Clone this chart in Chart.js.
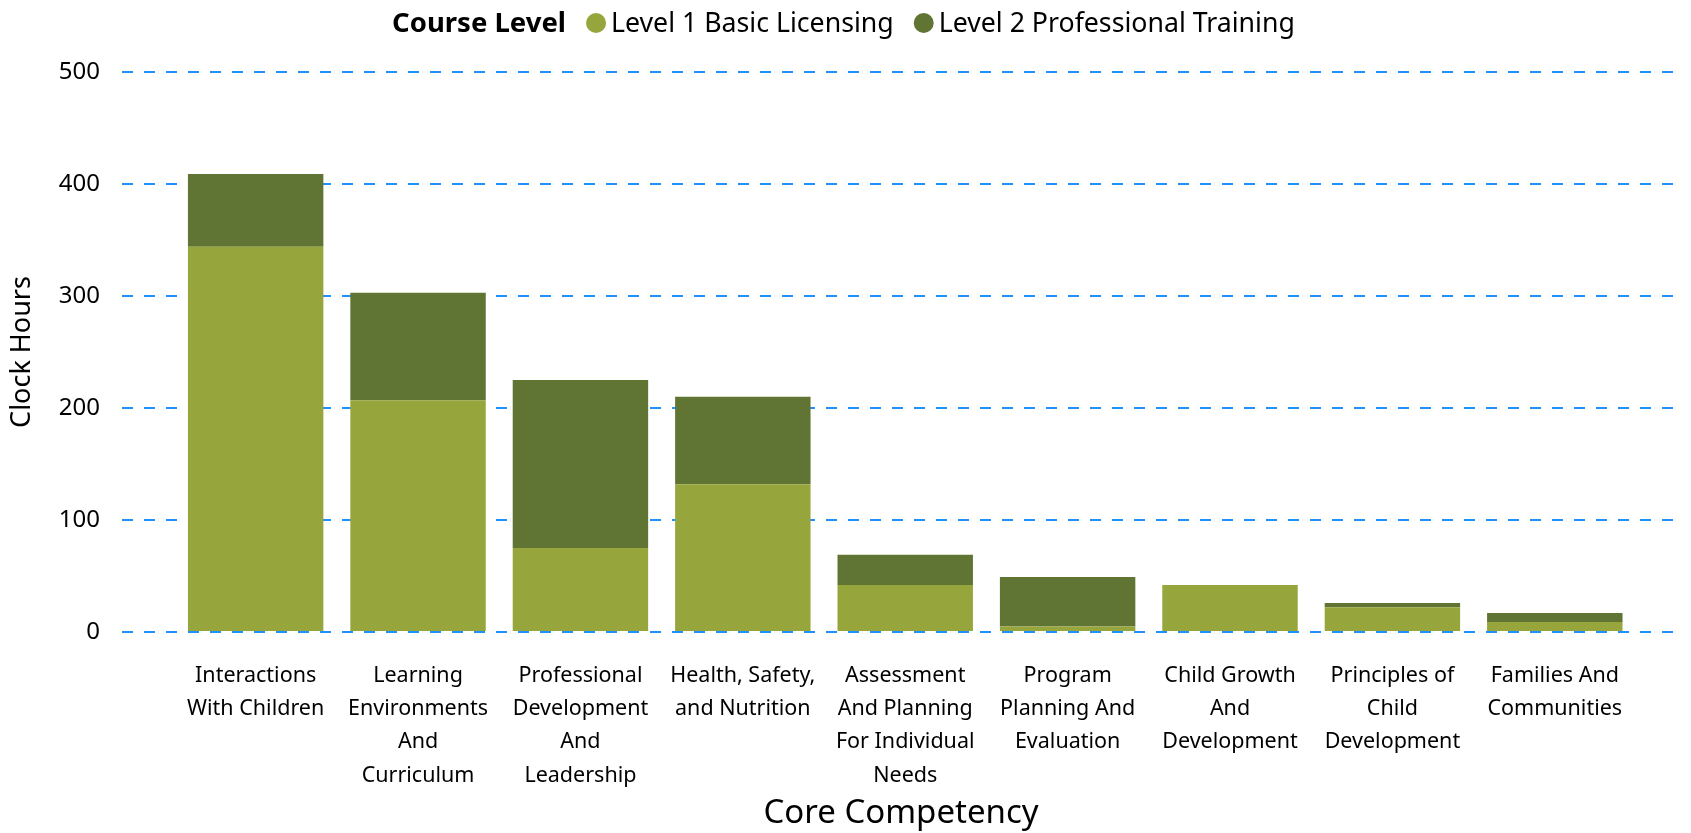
<!DOCTYPE html>
<html>
<head>
<meta charset="utf-8">
<title>Clock Hours by Core Competency</title>
<script src="https://cdn.jsdelivr.net/npm/chart.js@4.4.1/dist/chart.umd.min.js"></script>
<style>
  html, body { margin: 0; padding: 0; background: #fff; }
  #wrap { width: 1691px; height: 833px; }
</style>
</head>
<body>
<div id="wrap"><canvas id="hoursChart"></canvas></div>
<script>
/* global document, Chart */

// 카테고리 (x축 라벨, 줄바꿈 포함)
const competencies = [
  ['Interactions', 'With Children'],
  ['Learning', 'Environments', 'And', 'Curriculum'],
  ['Professional', 'Development', 'And', 'Leadership'],
  ['Health, Safety,', 'and Nutrition'],
  ['Assessment', 'And Planning', 'For Individual', 'Needs'],
  ['Program', 'Planning And', 'Evaluation'],
  ['Child Growth', 'And', 'Development'],
  ['Principles of', 'Child', 'Development'],
  ['Families And', 'Communities'],
];
const level1Hours = [344, 207, 75, 132, 42, 5, 42, 22, 9];
const level2Hours = [65, 96, 150, 78, 27, 44, 0, 4, 8];
const seriesNames = ['Level 1 Basic Licensing', 'Level 2 Professional Training'];
const legendTitle = 'Course Level';
const yTicks = [0, 100, 200, 300, 400, 500];

const FONT = "'Noto Sans', sans-serif";
const TEXT = '#000';

// 범례: 제목 + 원형 마커를 한 줄에 그림
const courseLegend = {
  id: 'courseLegend',
  afterDraw(chart) {
    const ctx = chart.ctx;
    const cy = 23;
    const dot = 20;
    ctx.save();
    ctx.textBaseline = 'middle';
    ctx.textAlign = 'left';

    ctx.font = 'bold 27.5px ' + FONT;
    const titleW = ctx.measureText(legendTitle).width;
    ctx.font = '26.7px ' + FONT;
    const items = chart.data.datasets.map((ds) => ({
      text: ds.label,
      color: ds.backgroundColor,
      w: ctx.measureText(ds.label).width,
    }));

    let total = titleW;
    items.forEach((it) => { total += 20 + dot + 5 + it.w; });
    let x = chart.width / 2 - 2 - total / 2;

    ctx.fillStyle = TEXT;
    ctx.font = 'bold 27.5px ' + FONT;
    ctx.fillText(legendTitle, x, cy + 1);
    x += titleW;

    ctx.font = '26.7px ' + FONT;
    items.forEach((it) => {
      x += 20;
      ctx.fillStyle = it.color;
      ctx.beginPath();
      ctx.arc(x + dot / 2, cy, dot / 2, 0, Math.PI * 2);
      ctx.fill();
      x += dot + 5;
      ctx.fillStyle = TEXT;
      ctx.fillText(it.text, x, cy + 1);
      x += it.w;
    });
    ctx.restore();
  },
};

const ctx = /** @type {HTMLCanvasElement} */ (
  document.getElementById('hoursChart')
).getContext('2d');

new Chart(ctx, {
  type: 'bar',
  data: {
    datasets: [
      {
        label: seriesNames[0],
        data: level1Hours.map((v, i) => ({ x: i, y: v })),
        backgroundColor: '#97a63c',
      },
      {
        label: seriesNames[1],
        data: level2Hours.map((v, i) => ({ x: i, y: v })),
        backgroundColor: '#607433',
      },
    ],
  },
  options: {
    responsive: true,
    maintainAspectRatio: false,
    animation: false,
    layout: { padding: { top: 72, right: 11, bottom: 0, left: 0 } },
    datasets: {
      bar: { categoryPercentage: 1, barPercentage: 0.834, borderWidth: 0 },
    },
    plugins: {
      legend: { display: false },
    },
    scales: {
      x: {
        type: 'linear',
        stacked: true,
        offset: false,
        min: -0.823,
        max: 8.771,
        afterBuildTicks: (scale) => {
          scale.ticks = competencies.map((_, i) => ({ value: i }));
        },
        afterFit: (scale) => { scale.height = 201; },
        grid: { display: false, drawTicks: false, offset: false },
        border: { display: false },
        ticks: {
          autoSkip: false,
          maxRotation: 0,
          minRotation: 0,
          padding: 27,
          color: TEXT,
          font: { family: FONT, size: 21.5, lineHeight: 1.55 },
          callback: (value) => competencies[value],
        },
        title: {
          display: true,
          text: 'Core Competency',
          color: TEXT,
          font: { family: FONT, size: 33 },
          padding: { top: 0, bottom: 0 },
        },
      },
      y: {
        stacked: true,
        min: 0,
        max: 500,
        afterBuildTicks: (scale) => {
          scale.ticks = yTicks.map((v) => ({ value: v }));
        },
        afterFit: (scale) => { scale.width = 122; },
        grid: { color: '#1e90ff', lineWidth: 2, drawTicks: false },
        border: { display: false, dash: [11, 11] },
        ticks: {
          padding: 22,
          color: TEXT,
          font: { family: FONT, size: 24 },
        },
        title: {
          display: true,
          text: 'Clock Hours',
          color: TEXT,
          font: { family: FONT, size: 27 },
          padding: { top: 6, bottom: 0 },
        },
      },
    },
  },
  plugins: [courseLegend],
});
</script>
</body>
</html>
